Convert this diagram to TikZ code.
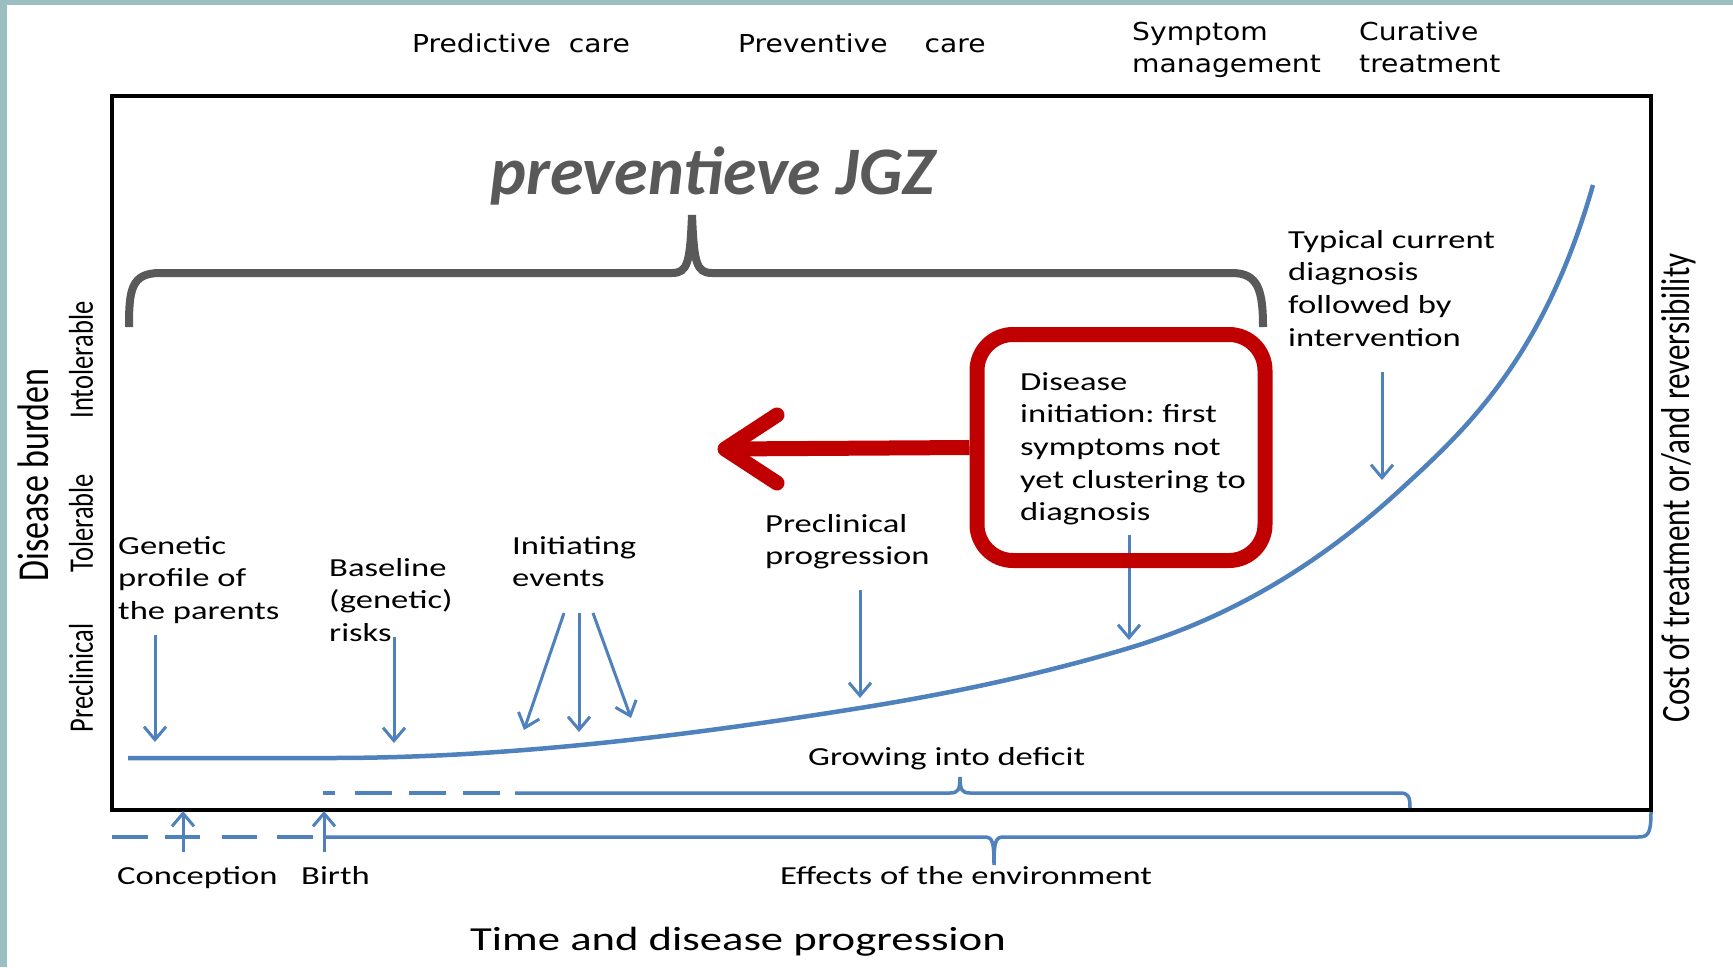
\documentclass[tikz,border=0pt]{standalone}
\usepackage{fontspec}
\setmainfont{Carlito}
\newfontfamily\labfont[FakeStretch=1.33]{Carlito}
\newfontfamily\topfont[FakeStretch=1.14]{DejaVu Sans}
\newfontfamily\jgzfont{Carlito}
\usetikzlibrary{arrows.meta,calc}
\definecolor{frameteal}{RGB}{155,191,192}
\definecolor{jblue}{RGB}{79,129,189}
\definecolor{jred}{RGB}{192,0,0}
\definecolor{jgray}{RGB}{89,89,89}
\frenchspacing
\tikzset{
  lbl/.style={font=\labfont\fontsize{26}{32.6}\selectfont, align=left, inner sep=0pt, anchor=north west},
  slbl/.style={font=\labfont\fontsize{26}{32.6}\selectfont, inner sep=0pt, anchor=base west},
  toplbl/.style={font=\topfont\fontsize{24.7}{32}\selectfont, align=left, inner sep=0pt, anchor=north west},
  vlbl/.style={inner sep=0pt, rotate=90},
  barrow/.style={draw=jblue, line width=3pt, -{Straight Barb[length=13pt,width=22pt]}},
  bline/.style={draw=jblue, line width=3.5pt},
  redboxstyle/.style={draw=jred, line width=15pt, rounded corners=36pt, minimum width=288pt, minimum height=226pt, inner sep=0pt},
  redarrow/.style={draw=jred, line width=15pt},
  bracestyle/.style={draw=jgray, line width=8pt},
}
\begin{document}
\begin{tikzpicture}[x=1pt,y=-1pt]
\useasboundingbox (0,0) rectangle (1733,967);
\fill[white] (0,0) rectangle (1733,967);
\fill[frameteal] (0,0) rectangle (7,967);
\fill[frameteal] (0,0) rectangle (1733,5);

% main frame
\draw[black, line width=4pt] (112,96) rectangle (1651,810);

% top labels
\node[toplbl, anchor=base west] (pred) at (412,52) {Predictive~~care};
\node[toplbl, anchor=base west] (prev) at (738,52) {Preventive\hspace{37pt}care};
\node[toplbl] (symp) at (1132,17.6) {\strut Symptom\\management};
\node[toplbl] (cur) at (1359,17.6) {\strut Curative\\treatment};

% preventieve JGZ
\node[inner sep=0pt, anchor=base west, text=jgray, font=\jgzfont\bfseries\itshape\fontsize{68}{80}\selectfont] (jgz) at (490,194) {preventieve JGZ};
\draw[bracestyle] (129,327) .. controls (129,290) and (131,273) .. (160,273)
  -- (672,273) .. controls (688,273) and (690,262) .. (692,215)
  .. controls (694,262) and (696,273) .. (712,273)
  -- (1232,273) .. controls (1258,273) and (1263,290) .. (1263,327);

% vertical labels
\node[vlbl, font=\fontsize{34}{40}\selectfont] (burden) at (33,475) {\scalebox{1}[1.3]{Disease burden}};
\node[vlbl, font=\fontsize{26.5}{30}\selectfont] (intol) at (81,360) {\scalebox{1}[1.3]{Intolerable}};
\node[vlbl, font=\fontsize{26.5}{30}\selectfont] (tol) at (81,523) {\scalebox{1}[1.3]{Tolerable}};
\node[vlbl, font=\fontsize{26.5}{30}\selectfont] (precl) at (81,678) {\scalebox{1}[1.3]{Preclinical}};
\node[vlbl, font=\fontsize{31}{36}\selectfont] (cost) at (1679,488) {\scalebox{1}[1.3]{Cost of treatment or/and reversibility}};

% disease curve
\draw[jblue, line width=4.5pt] (128,758) -- (330,758)
  .. controls (507,758) and (683,736.3) .. (860,708)
  .. controls (949.7,693.6) and (1039.3,674.9) .. (1129,648)
  .. controls (1219.3,620.9) and (1309.7,573.1) .. (1400,490)
  .. controls (1464.3,430.8) and (1543,360) .. (1593,185);

% labels in the plot
\node[lbl] (genetic) at (118,531.2) {\strut Genetic\\profile of\\the parents};
\node[lbl] (baseline) at (329,553.2) {\strut Baseline\\(genetic)\\risks};
\node[lbl] (initiating) at (512,531.2) {\strut Initiating\\events};
\node[lbl] (preclin) at (765,509.2) {\strut Preclinical\\progression};
\node[lbl] (typical) at (1288,225.2) {\strut Typical current\\diagnosis\\followed by\\intervention};

% blue arrows
\coordinate (genS) at (155,635); \coordinate (genE) at (155,742);
\coordinate (basS) at (394,637); \coordinate (basE) at (394,743);
\coordinate (iniS1) at (564,613); \coordinate (iniE1) at (524,730);
\coordinate (iniS2) at (579,613); \coordinate (iniE2) at (579,732);
\coordinate (iniS3) at (593,613); \coordinate (iniE3) at (631,718);
\coordinate (preS) at (860,590); \coordinate (preE) at (860,698);
\coordinate (disS) at (1129,535); \coordinate (disE) at (1129,640);
\coordinate (typS) at (1382,372); \coordinate (typE) at (1382,480);
\draw[barrow] (genS) -- (genE);
\draw[barrow] (basS) -- (basE);
\draw[barrow] (iniS1) -- (iniE1);
\draw[barrow] (iniS2) -- (iniE2);
\draw[barrow] (iniS3) -- (iniE3);
\draw[barrow] (preS) -- (preE);
\draw[barrow] (disS) -- (disE);
\draw[barrow] (typS) -- (typE);

% red box and red arrow
\node[redboxstyle] (rb) at (1121,447.5) {};
\node[lbl] (rbtext) at (1020,367.2) {\strut Disease\\initiation: first\\symptoms not\\yet clustering to\\diagnosis};
\coordinate (redtip) at (725,449);
\draw[redarrow] (rb.west) -- (redtip);
\draw[redarrow, line cap=round, line join=round] ($(redtip)+(52,-34)$) -- (redtip) -- ($(redtip)+(52,34)$);

% growing into deficit brace
\node[slbl] (growing) at (808,765) {Growing into deficit};
\draw[bline, dash pattern=on 12pt off 20pt on 37pt off 17pt on 37pt off 17pt on 37pt off 15pt] (323,793) -- (515,793);
\draw[bline] (515,793) -- (950,793) .. controls (958,793) and (960,790) .. (960,777)
  .. controls (960,790) and (962,793) .. (970,793)
  -- (1400,793) .. controls (1408,793) and (1410,796) .. (1410,808);

% environment brace
\draw[bline, dash pattern=on 36pt off 17pt on 35pt off 22pt on 35pt off 20pt on 36pt off 11pt] (112,837) -- (324,837);
\draw[bline] (324,837) -- (984,837) .. controls (992,837) and (994,840) .. (994,865)
  .. controls (994,840) and (996,837) .. (1004,837)
  -- (1638,837) .. controls (1648,837) and (1651,834) .. (1651,812);

% conception and birth arrows
\coordinate (conS) at (183,852); \coordinate (conE) at (183,811);
\coordinate (birS) at (324,852); \coordinate (birE) at (324,811);
\draw[barrow] (conS) -- (conE);
\draw[barrow] (birS) -- (birE);

\node[slbl] (conception) at (117,884) {Conception};
\node[slbl] (birth) at (301,884) {Birth};
\node[slbl] (effects) at (780,884) {Effects of the environment};
\node[inner sep=0pt, anchor=base west, font=\labfont\fontsize{33.6}{40}\selectfont] (time) at (470,950) {Time and disease progression};
\end{tikzpicture}
\end{document}
